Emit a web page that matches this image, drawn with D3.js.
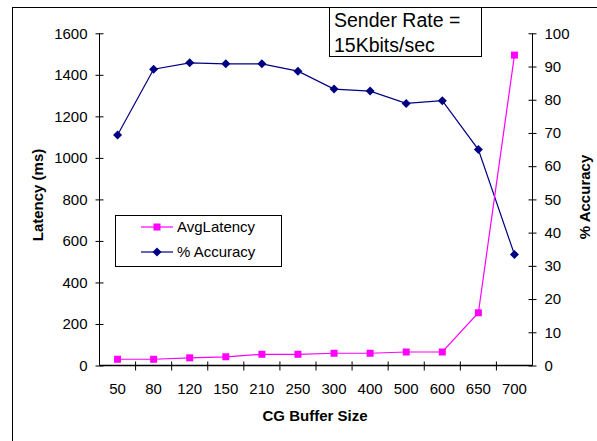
<html>
<head>
	<script src="https://d3js.org/d3.v7.min.js"></script>
	<style>
		body{ margin:0; background:#fff;}
		text{ font-family: Arial, "Liberation Sans", sans-serif; fill:#000;}
		.axis text{ font-size:15px;}
		.axis path, .axis line{ stroke:#000;}
		.title{ font-size:15px; font-weight:bold;}
	</style>
</head>
<body>
	<script>

var categories = ["50","80","120","150","210","250","300","400","500","600","650","700"];
var avgLatency = [30,30,37,42,54,54,59,59,65,65,254,1495];
var accuracy = [69.4,89.2,91.1,90.8,90.8,88.6,83.2,82.6,78.9,79.7,65.0,33.4];
var latencyTicks = [0,200,400,600,800,1000,1200,1400,1600];
var accuracyTicks = [0,10,20,30,40,50,60,70,80,90,100];

var width = 597,
	height = 441;

var svg = d3.select( "body" )
	.append( "svg" )
	.attr( "width", width )
	.attr( "height", height );

// outer frame, runs off the right and bottom edge
svg.append( "rect" )
	.attr( "x", 12.5 ).attr( "y", 7.5 )
	.attr( "width", 700 ).attr( "height", 500 )
	.attr( "fill", "none" ).attr( "stroke", "#000" );

var plotL = 99.5, plotR = 532.5, plotT = 33.3, plotB = 365.5;

var x = d3.scaleBand()
	.domain( categories )
	.range( [plotL, plotR] );

var yL = d3.scaleLinear()
	.domain( [0,1600] )
	.range( [plotB, plotT] );

var yR = d3.scaleLinear()
	.domain( [0,100] )
	.range( [plotB, plotT] );

// left axis
var gl = svg.append( "g" ).attr( "class", "axis" )
	.attr( "transform", "translate(" + plotL + ",0)" )
	.call( d3.axisLeft( yL ).tickValues( latencyTicks ).tickFormat( d3.format( "d" ) ).tickSize( 4 ).tickPadding( 8 ) );
gl.select( ".domain" ).remove();
gl.selectAll( ".tick line" ).attr( "x1", 4 ).attr( "x2", -4 );
gl.append( "line" ).attr( "y1", plotT ).attr( "y2", plotB ).attr( "stroke", "#000" );

// right axis
var gr = svg.append( "g" ).attr( "class", "axis" )
	.attr( "transform", "translate(" + plotR + ",0)" )
	.call( d3.axisRight( yR ).tickValues( accuracyTicks ).tickSize( 4 ).tickPadding( 8 ) );
gr.select( ".domain" ).remove();
gr.selectAll( ".tick line" ).attr( "x1", -4 ).attr( "x2", 4 );
gr.append( "line" ).attr( "y1", plotT ).attr( "y2", plotB ).attr( "stroke", "#000" );

// category axis, ticks on the band edges
var gx = svg.append( "g" ).attr( "class", "axis" )
	.attr( "transform", "translate(0," + plotB + ")" );
gx.append( "line" ).attr( "x1", plotL ).attr( "x2", plotR ).attr( "stroke", "#666" ).attr( "stroke-width", 1.5 );
gx.selectAll( "line.edge" )
	.data( categories.slice(1) )
	.enter().append( "line" ).attr( "class", "edge" )
	.attr( "x1", function(d){ return x(d); } )
	.attr( "x2", function(d){ return x(d); } )
	.attr( "y1", -4 ).attr( "y2", 5 )
	.attr( "stroke", "#000" );
gx.selectAll( "text" )
	.data( categories )
	.enter().append( "text" )
	.attr( "x", function(d){ return x(d) + x.bandwidth()/2; } )
	.attr( "y", 28 )
	.attr( "text-anchor", "middle" )
	.text( function(d){ return d; } );

// axis titles
svg.append( "text" ).attr( "class", "title" )
	.attr( "transform", "translate(43,195) rotate(-90)" )
	.attr( "text-anchor", "middle" )
	.text( "Latency (ms)" );
svg.append( "text" ).attr( "class", "title" )
	.attr( "transform", "translate(590,197) rotate(-90)" )
	.attr( "text-anchor", "middle" )
	.text( "% Accuracy" );
svg.append( "text" ).attr( "class", "title" )
	.attr( "x", 315 ).attr( "y", 421 )
	.attr( "text-anchor", "middle" )
	.text( "CG Buffer Size" );

var cx = function(d,i){ return x(categories[i]) + x.bandwidth()/2; };

// accuracy series
svg.append( "path" )
	.datum( accuracy )
	.attr( "fill", "none" ).attr( "stroke", "#000080" ).attr( "stroke-width", 1.2 )
	.attr( "d", d3.line().x( cx ).y( function(d){ return yR(d); } ) );
svg.selectAll( "path.dia" )
	.data( accuracy )
	.enter().append( "path" ).attr( "class", "dia" )
	.attr( "transform", function(d,i){ return "translate(" + cx(d,i) + "," + yR(d) + ")"; } )
	.attr( "d", "M0,-4.5L4.5,0L0,4.5L-4.5,0Z" )
	.attr( "fill", "#000080" );

// latency series
svg.append( "path" )
	.datum( avgLatency )
	.attr( "fill", "none" ).attr( "stroke", "#ff00ff" ).attr( "stroke-width", 1.2 )
	.attr( "d", d3.line().x( cx ).y( function(d){ return yL(d); } ) );
svg.selectAll( "rect.sq" )
	.data( avgLatency )
	.enter().append( "rect" ).attr( "class", "sq" )
	.attr( "x", function(d,i){ return cx(d,i) - 3.5; } )
	.attr( "y", function(d){ return yL(d) - 3.5; } )
	.attr( "width", 7 ).attr( "height", 7 )
	.attr( "fill", "#ff00ff" );

// legend
var lg = svg.append( "g" );
lg.append( "rect" )
	.attr( "x", 115.5 ).attr( "y", 215.5 ).attr( "width", 166 ).attr( "height", 51 )
	.attr( "fill", "#fff" ).attr( "stroke", "#000" );
lg.append( "line" ).attr( "x1", 141 ).attr( "x2", 173 ).attr( "y1", 227 ).attr( "y2", 227 )
	.attr( "stroke", "#ff00ff" ).attr( "stroke-width", 1.2 );
lg.append( "rect" ).attr( "x", 153.5 ).attr( "y", 223.5 ).attr( "width", 7 ).attr( "height", 7 ).attr( "fill", "#ff00ff" );
lg.append( "text" ).attr( "x", 177 ).attr( "y", 232 ).style( "font-size", "15px" ).text( "AvgLatency" );
lg.append( "line" ).attr( "x1", 141 ).attr( "x2", 173 ).attr( "y1", 252 ).attr( "y2", 252 )
	.attr( "stroke", "#000080" ).attr( "stroke-width", 1.2 );
lg.append( "path" ).attr( "transform", "translate(157,252)" ).attr( "d", "M0,-4.5L4.5,0L0,4.5L-4.5,0Z" ).attr( "fill", "#000080" );
lg.append( "text" ).attr( "x", 177 ).attr( "y", 257 ).style( "font-size", "15px" ).text( "% Accuracy" );

// sender rate note
var note = svg.append( "g" );
note.append( "rect" )
	.attr( "x", 329.5 ).attr( "y", 7.5 ).attr( "width", 152 ).attr( "height", 49 )
	.attr( "fill", "#fff" ).attr( "stroke", "#000" );
note.append( "text" ).attr( "x", 334 ).attr( "y", 27 ).style( "font-size", "19.5px" ).text( "Sender Rate =" );
note.append( "text" ).attr( "x", 334 ).attr( "y", 52 ).style( "font-size", "19.5px" ).text( "15Kbits/sec" );

	</script>
</body>
</html>
